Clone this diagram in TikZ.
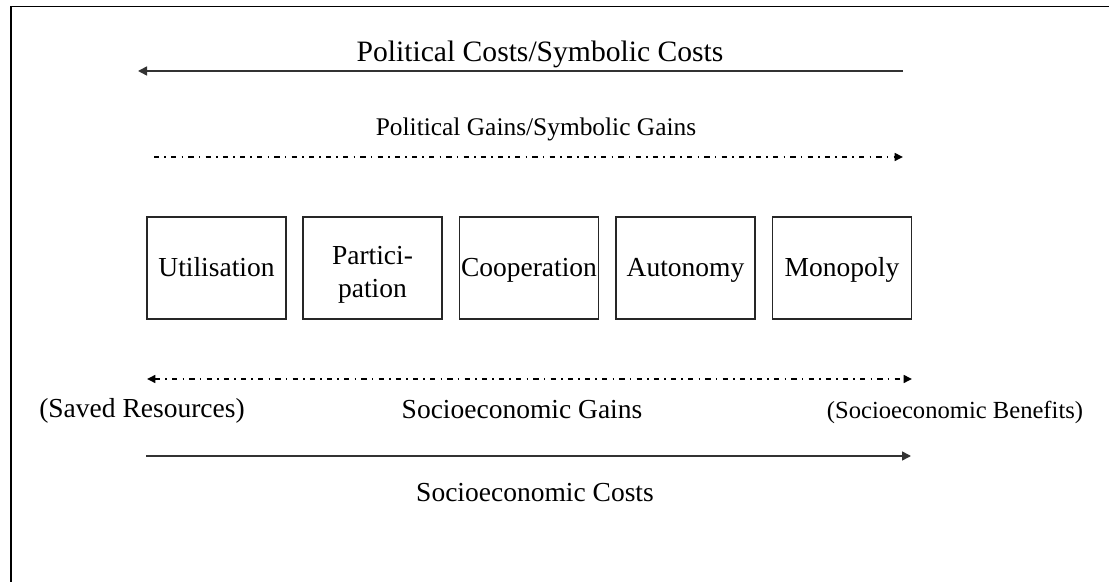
\documentclass[tikz,border=0pt]{standalone}
\usepackage{fontspec}
\setmainfont{Liberation Serif}
\usetikzlibrary{arrows.meta}
\begin{document}
\begin{tikzpicture}[x=0.5pt,y=-0.5pt,
  every node/.style={font=\fontsize{13.75}{16.5}\selectfont},
  stagebox/.style={draw=black!85,line width=0.6pt,minimum width=69.5pt,minimum height=51pt,inner sep=0pt,text height=10pt,text depth=1pt},
  lbl/.style={anchor=base,inner sep=0pt},
  arr/.style={line width=0.8pt,draw=black!80,-{Triangle[length=4.5pt,width=4.5pt]}},
  dasharr/.style={line width=0.75pt,draw=black,dash pattern=on 2.6pt off 2.6pt on 0.8pt off 2.6pt,-{Triangle[length=4.2pt,width=4pt]}},
  frameline/.style={line width=0.85pt,draw=black}
]
\useasboundingbox (0,0) rectangle (1109,582);
% frame (left and top edges visible)
\coordinate (fb) at (11,582);
\coordinate (ftl) at (11,6.5);
\coordinate (ftr) at (1109,6.5);
\draw[frameline] (fb) -- (ftl) -- (ftr);

% labels
\node[lbl,font=\fontsize{14.8}{17}\selectfont] (pc) at (540,62) {Political Costs/Symbolic Costs};
\node[lbl,font=\fontsize{12.7}{15}\selectfont] (pg) at (536,136) {Political Gains/Symbolic Gains};
\node[lbl] (sr) at (142,418) {(Saved Resources)};
\node[lbl] (sg) at (522,419) {Socioeconomic Gains};
\node[lbl,font=\fontsize{12.3}{15}\selectfont] (sb) at (955,419) {(Socioeconomic Benefits)};
\node[lbl] (sc) at (535,502) {Socioeconomic Costs};

% boxes
\node[stagebox] (b1) at (216.5,268) {Utilisation};
\node[stagebox] (b2) at (372.5,268) {\raisebox{6pt}{\begin{tabular}[t]{@{}c@{}}Partici-\\pation\end{tabular}}};
\node[stagebox] (b3) at (529,268) {Cooperation};
\node[stagebox] (b4) at (685.5,268) {Autonomy};
\node[stagebox] (b5) at (842,268) {Monopoly};

% arrows
\coordinate (a1s) at (903,71);
\coordinate (a1e) at (138,71);
\draw[arr] (a1s) -- (a1e);

\coordinate (a2s) at (154,157);
\coordinate (a2e) at (903,157);
\draw[dasharr] (a2s) -- (a2e);

\coordinate (a3s) at (147,379);
\coordinate (a3e) at (912,379);
\draw[dasharr,{Triangle[length=4.2pt,width=4pt]}-{Triangle[length=4.2pt,width=4pt]}] (a3s) -- (a3e);

\coordinate (a4s) at (146,456);
\coordinate (a4e) at (911,456);
\draw[arr] (a4s) -- (a4e);
\end{tikzpicture}
\end{document}
